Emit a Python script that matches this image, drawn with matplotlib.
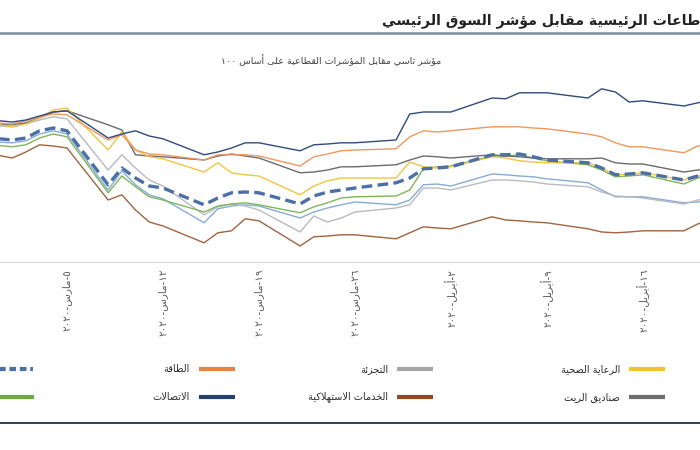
import re
import datetime as dt
import matplotlib
matplotlib.use("Agg")
import matplotlib.pyplot as plt
import matplotlib.dates as mdates
from matplotlib.lines import Line2D

plt.rcParams['font.family'] = ['DejaVu Sans']

# --- Arabic shaping (matplotlib has no complex text layout) ---
_ar = "ءآأؤإئابةتثجحخدذرزسشصضطظعغفقكلمنهوىي"
_nf = [1, 2, 2, 2, 2, 4, 2, 4, 2] + [4] * 5 + [2] * 4 + [4] * 15 + [2, 2, 4]
FORMS = {}
_code = 0xFE80
for _c, _n in zip(_ar, _nf):
    FORMS[_c] = (_code, _n)
    _code += _n
LAM_ALEF = {"آ": 0xFEF5, "أ": 0xFEF7, "إ": 0xFEF9, "ا": 0xFEFB}


def _joins_left(c):
    return c in FORMS and FORMS[c][1] == 4


def shape(word):
    out = []
    i = 0
    n = len(word)
    while i < n:
        c = word[i]
        if c not in FORMS:
            out.append(c)
            i += 1
            continue
        link_prev = i > 0 and _joins_left(word[i - 1])
        if c == "ل" and i + 1 < n and word[i + 1] in LAM_ALEF:
            out.append(chr(LAM_ALEF[word[i + 1]] + (1 if link_prev else 0)))
            i += 2
            continue
        nxt = word[i + 1] if i + 1 < n else ""
        base, cnt = FORMS[c]
        link_next = cnt == 4 and nxt in FORMS and nxt != "ء"
        if cnt == 1:
            out.append(chr(base))
        elif cnt == 2:
            out.append(chr(base + (1 if link_prev else 0)))
        else:
            idx = {(False, False): 0, (True, False): 1, (False, True): 2, (True, True): 3}[(link_prev, link_next)]
            out.append(chr(base + idx))
        i += 1
    return "".join(out)


def ar(text):
    s = shape(text)
    runs = re.findall(r"[0-9\u0660-\u0669]+|[^0-9\u0660-\u0669]+", s)
    return "".join(r if r[0].isdigit() else r[::-1] for r in reversed(runs))


# --- data: trading days and index values (base 100) ---
dates = ["2020-02-27",
         "2020-03-01", "2020-03-02", "2020-03-03", "2020-03-04", "2020-03-05",
         "2020-03-08", "2020-03-09", "2020-03-10", "2020-03-11", "2020-03-12",
         "2020-03-15", "2020-03-16", "2020-03-17", "2020-03-18", "2020-03-19",
         "2020-03-22", "2020-03-23", "2020-03-24", "2020-03-25", "2020-03-26",
         "2020-03-29", "2020-03-30", "2020-03-31", "2020-04-01", "2020-04-02",
         "2020-04-05", "2020-04-06", "2020-04-07", "2020-04-08", "2020-04-09",
         "2020-04-12", "2020-04-13", "2020-04-14", "2020-04-15", "2020-04-16",
         "2020-04-19", "2020-04-20", "2020-04-21"]

tasi = [100.5, 99.5, 100, 101.8, 102.5, 101.8, 88.3, 92.5, 90, 88, 87.5,
        83.3, 85, 86.3, 86.5, 86.3, 83.5, 85.5, 86.5, 87, 87.5,
        88.8, 90, 92.3, 92.5, 92.8, 95.8, 95.8, 96, 95.3, 94.5,
        93.8, 92.5, 90.8, 91, 91.3, 89.5, 90.5, 91.5]
telecom = [105, 104, 104.5, 105.5, 106.5, 106.8, 100, 101, 101.8, 100.5, 99.8,
           95.8, 96.5, 97.5, 98.8, 98.8, 96.8, 98.3, 98.5, 98.8, 98.8,
           99.5, 106, 106.5, 106.5, 106.5, 110, 109.8, 111.3, 111.3, 111.3,
           110, 112.3, 111.5, 109, 109.3, 108, 108.8, 109.3]
energy = [104.3, 103.5, 104.3, 105.3, 106, 105.8, 99.5, 100.8, 97, 96, 95.8,
          94.5, 95.8, 95.8, 95.8, 95.5, 93, 95.3, 96, 96.8, 97,
          97.3, 100.3, 101.8, 101.5, 101.8, 102.8, 102.8, 102.8, 102.5, 102.3,
          101, 100.3, 98.8, 97.8, 97.8, 96.3, 98, 98.8]
reits = [103.3, 103.3, 103.8, 105, 106.5, 106.8, 103.3, 102, 95.8, 95.5, 95.3,
         94.5, 95.5, 96, 95.5, 95, 91.3, 91.5, 92, 92.8, 92.8,
         93.3, 94.5, 95.5, 95.3, 95, 95.8, 95.5, 95.3, 95, 94.8,
         94.8, 95, 93.8, 93.5, 93.5, 91.5, 92, 92.5]
health = [104.3, 102.8, 103.5, 105, 107, 107.5, 97, 101.5, 97, 95.3, 94.8,
          91.5, 93.8, 91.3, 90.8, 90.5, 85.8, 88, 89.3, 90, 90,
          90, 94, 92.8, 92.5, 92.8, 95.3, 95, 94.3, 94, 93.8,
          93.8, 92.5, 90.8, 91, 91.3, 89.5, 90.5, 91.3]
retail = [103.5, 102.8, 103.5, 104.5, 105.3, 104.8, 92, 95.8, 92.5, 89.5, 88,
          80.8, 82.8, 83.5, 83, 82, 76.5, 80.5, 79, 80, 81.5,
          82.5, 83.3, 87.5, 87.5, 87, 89.5, 89.5, 89.3, 89, 88.5,
          87.8, 86.5, 85.5, 85.3, 85, 83.5, 84.5, 85]
banks = [99.3, 98.8, 99.3, 101, 101.8, 101, 87, 91.8, 88.3, 85.8, 84.8,
         78.8, 82.3, 83, 83.3, 83, 80, 81.5, 82.5, 83.3, 84,
         83.3, 84.5, 88.3, 88.5, 88, 91, 90.8, 90.5, 90.3, 89.8,
         88.8, 87, 85.3, 85.3, 85.3, 83.8, 84, 84.5]
materials = [98.8, 97.8, 98.3, 100, 101, 100.3, 86.3, 90.5, 87.8, 85.3, 84.5,
             81.5, 83, 83.5, 83.8, 83.3, 81.3, 82.8, 83.8, 85, 85.3,
             85.5, 87, 92.3, 92.8, 93, 95.5, 95.5, 95.8, 95, 94.3,
             93.3, 92, 90.3, 90.5, 90.8, 88.5, 90, 91]
consumer = [97, 95, 96.5, 98.3, 98, 97.5, 84.5, 85.8, 82, 79, 78,
            73.8, 76.3, 76.8, 79.8, 79.3, 73, 75.3, 75.5, 75.8, 75.8,
            74.8, 76.3, 77.8, 77.5, 77.3, 80.3, 79.5, 79.3, 79, 78.8,
            77.3, 76.5, 76.3, 76.5, 76.8, 76.8, 78.5, 79.5]

tick_dates = ["2020-03-05", "2020-03-12", "2020-03-19", "2020-03-26",
              "2020-04-02", "2020-04-09", "2020-04-16"]
tick_labels = ["٥-مارس-٢٠٢٠", "١٢-مارس-٢٠٢٠", "١٩-مارس-٢٠٢٠", "٢٦-مارس-٢٠٢٠",
               "٢-أبريل-٢٠٢٠", "٩-أبريل-٢٠٢٠", "١٦-أبريل-٢٠٢٠"]

title = "طاعات الرئيسية مقابل مؤشر السوق الرئيسي"
subtitle = "مؤشر تاسي مقابل المؤشرات القطاعية على أساس ١٠٠"

x = [dt.datetime.strptime(d, "%Y-%m-%d") for d in dates]

# series: values, line colour
series = [
    (banks, "#86ACD8"),
    (retail, "#B9B9C3"),
    (consumer, "#A0643F"),
    (materials, "#7FB65A"),
    (reits, "#6B6B6B"),
    (health, "#F3C444"),
    (energy, "#EE9860"),
    (telecom, "#2F4B7E"),
]

W, H = 700, 450
fig = plt.figure(figsize=(7, 4.5), dpi=100)
fig.patch.set_facecolor("white")
ax = fig.add_axes([0, 1 - 262 / H, 1, 192 / H])

for vals, col in series:
    ax.plot(x, vals, color=col, lw=1.0, zorder=2)
ax.plot(x, tasi, color="#4C6FA6", lw=2.4, dashes=(3.2, 1.6), zorder=3)

t0 = mdates.date2num(dt.datetime(2020, 3, 5))
ax.set_xlim(t0 - 67 / 13.71, t0 + 633 / 13.71)
ax.set_ylim(69, 117)
ax.set_xticks([dt.datetime.strptime(d, "%Y-%m-%d") for d in tick_dates])
ax.set_xticklabels([ar(t) for t in tick_labels], rotation=90, va="top", ha="center",
                   fontsize=7.5, color="#595959")
ax.tick_params(axis="x", length=0, pad=5)
ax.set_yticks([])
for s in ["top", "left", "right"]:
    ax.spines[s].set_visible(False)
ax.spines["bottom"].set_color("#D9D9D9")
ax.spines["bottom"].set_linewidth(0.8)
ax.set_facecolor("none")


def px(xp, yp):
    return xp / W, 1 - yp / H


# title and rules
fig.text(*px(700, 21), ar(title), ha="right", va="center", fontsize=10.2,
         fontweight="bold", color="#222222")
fig.add_artist(Line2D([0, 1], [1 - 33 / H] * 2, color="#7F8C9B", lw=1.8))
fig.text(*px(331, 60), ar(subtitle), ha="center", va="center", fontsize=6.8,
         color="#404040")
fig.add_artist(Line2D([0, 1], [1 - 423 / H] * 2, color="#1F3350", lw=1.3))

# legend (right to left, two rows)
legend_items = [
    ("الرعاية الصحية", "#F2C230", 629, 369),
    ("التجزئة", "#A6A6A6", 397, 369),
    ("الطاقة", "#E8843F", 199, 369),
    ("صناديق الريت", "#6E6E6E", 629, 397),
    ("الخدمات الاستهلاكية", "#8E4A22", 397, 397),
    ("الاتصالات", "#24416F", 199, 397),
]
for label, col, x0, y0 in legend_items:
    fig.add_artist(Line2D([x0 / W, (x0 + 36) / W], [1 - y0 / H] * 2, color=col,
                          lw=3, solid_capstyle="butt"))
    fig.text(*px(x0 - 9, y0), ar(label), ha="right", va="center", fontsize=7,
             color="#2B2B2B")
fig.add_artist(Line2D([-3 / W, 33 / W], [1 - 369 / H] * 2, color="#4C6FA6", lw=3,
                      dashes=(1.6, 0.9)))
fig.add_artist(Line2D([-3 / W, 34 / W], [1 - 397 / H] * 2, color="#6DAA45", lw=3,
                      solid_capstyle="butt"))

fig.savefig("out.png", dpi=100, facecolor="white")
